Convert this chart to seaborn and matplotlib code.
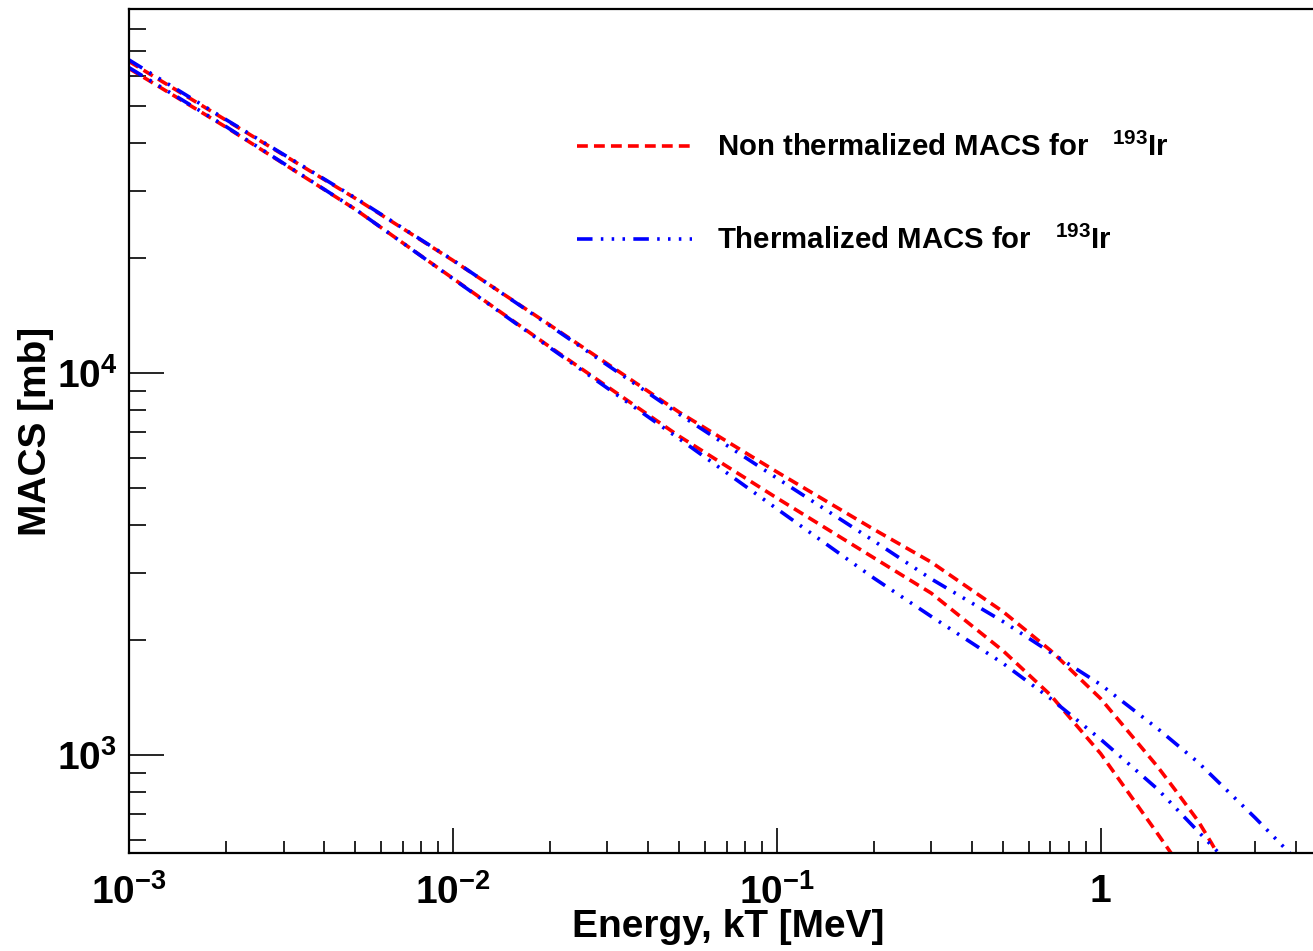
import matplotlib
matplotlib.use("Agg")
import matplotlib.pyplot as plt
import matplotlib.ticker as mticker
import numpy as np
import pandas as pd
import seaborn as sns

# MACS curves (energy kT in MeV, MACS in mb)
e_nonth_a = [0.001, 0.002, 0.005, 0.01, 0.02, 0.05, 0.1, 0.2, 0.3, 0.5, 0.7, 1.0, 1.5, 1.7, 2.0, 2.2, 2.5]
macs_nonth_a = [65600, 45950, 28720, 19760, 13350, 7906, 5520, 3896, 3201, 2374, 1881, 1406, 932, 810, 672, 588, 485]

e_nonth_b = [0.001, 0.002, 0.005, 0.01, 0.02, 0.05, 0.1, 0.2, 0.3, 0.5, 0.7, 1.0, 1.5, 1.7]
macs_nonth_b = [62860, 44060, 26880, 17730, 11700, 6841, 4716, 3281, 2655, 1875, 1437, 1009, 622, 534]

e_th_a = [0.001, 0.002, 0.005, 0.01, 0.02, 0.05, 0.1, 0.2, 0.3, 0.5, 0.7, 1.0, 1.5, 2.0, 3.0, 4.0]
macs_th_a = [66200, 46100, 28800, 19800, 13300, 7812, 5317, 3633, 2893, 2237, 1858, 1530, 1173, 957, 685, 534]

e_th_b = [0.001, 0.002, 0.005, 0.01, 0.02, 0.05, 0.1, 0.2, 0.3, 0.5, 0.7, 1.0, 1.5, 2.0, 2.5]
macs_th_b = [63200, 44200, 26900, 17700, 11650, 6738, 4419, 2903, 2307, 1738, 1407, 1100, 814, 631, 518]

x_major = [1e-3, 1e-2, 1e-1, 1]
x_labels = [r"$10^{-3}$", r"$10^{-2}$", r"$10^{-1}$", "1"]
y_major = [1e3, 1e4]
y_labels = [r"$10^{3}$", r"$10^{4}$"]

label_nonth = r"Non thermalized MACS for   $^{193}$Ir"
label_th = r"Thermalized MACS for   $^{193}$Ir"

sns.set_theme(style="ticks")
plt.rcParams["font.family"] = ["Liberation Sans", "DejaVu Sans"]
plt.rcParams["font.weight"] = "bold"
plt.rcParams["mathtext.fontset"] = "custom"
plt.rcParams["mathtext.rm"] = "Liberation Sans:bold"
plt.rcParams["mathtext.it"] = "Liberation Sans:bold"
plt.rcParams["mathtext.bf"] = "Liberation Sans:bold"
plt.rcParams["mathtext.default"] = "rm"
for key in ["text.color", "axes.labelcolor", "xtick.color", "ytick.color", "axes.edgecolor"]:
    plt.rcParams[key] = "black"

W, H = 1313, 951
fig = plt.figure(figsize=(W / 100, H / 100), dpi=100)
ax = fig.add_axes([129 / W, 1 - 853 / H, 1198 / W, 844 / H])

red_dash = [3.0, 1.7]
blue_dash = [4.3, 2.3, 0.7, 2.3, 0.7, 2.3, 0.7, 2.3]
lw = 2.6

curves = [
    (e_nonth_a, macs_nonth_a, "#ff0000", red_dash),
    (e_nonth_b, macs_nonth_b, "#ff0000", red_dash),
    (e_th_a, macs_th_a, "#0000ff", blue_dash),
    (e_th_b, macs_th_b, "#0000ff", blue_dash),
]
handles = {}
for e, m, col, dash in curves:
    df = pd.DataFrame({"energy": e, "macs": m})
    sns.lineplot(data=df, x="energy", y="macs", color=col, lw=lw, ax=ax,
                 legend=False, estimator=None, sort=False)
    line = ax.get_lines()[-1]
    line.set_dashes(dash)
    handles.setdefault(col, line)

ax.set_xscale("log")
ax.set_yscale("log")
ax.set_xlim(1e-3, 5)
ax.set_ylim(554, 90000)

ax.xaxis.set_major_locator(mticker.FixedLocator(x_major))
ax.xaxis.set_major_formatter(mticker.FixedFormatter(x_labels))
ax.xaxis.set_minor_locator(mticker.LogLocator(base=10, subs=np.arange(2, 10)))
ax.xaxis.set_minor_formatter(mticker.NullFormatter())
ax.yaxis.set_major_locator(mticker.FixedLocator(y_major))
ax.yaxis.set_major_formatter(mticker.FixedFormatter(y_labels))
ax.yaxis.set_minor_locator(mticker.LogLocator(base=10, subs=np.arange(2, 10)))
ax.yaxis.set_minor_formatter(mticker.NullFormatter())

ax.tick_params(axis="both", which="both", direction="in", width=1.2, color="black",
               top=False, right=False, labelsize=28, labelcolor="black")
ax.tick_params(axis="x", which="major", length=18, pad=15)
ax.tick_params(axis="x", which="minor", length=9)
ax.tick_params(axis="y", which="major", length=25, pad=8.5)
ax.tick_params(axis="y", which="minor", length=12.5)

for s in ax.spines.values():
    s.set_linewidth(1.6)
    s.set_color("black")

ax.set_xlabel("Energy, kT [MeV]", fontsize=28, fontweight="bold", color="black")
ax.set_ylabel("MACS [mb]", fontsize=28, fontweight="bold", color="black")
ax.xaxis.set_label_coords(0.5, -0.066)
ax.xaxis.label.set_va("top")
ax.yaxis.set_label_coords(-0.0776, 0.5)
ax.yaxis.label.set_va("center")

ax.legend([handles["#ff0000"], handles["#0000ff"]], [label_nonth, label_th],
          loc="center left", bbox_to_anchor=((577 - 129) / 1198, 1 - (194 - 9) / 844),
          frameon=False, fontsize=21.2, handlelength=3.9, handletextpad=0.84,
          labelspacing=2.15, borderpad=0, borderaxespad=0, labelcolor="black")

fig.savefig("out.png", dpi=100)
